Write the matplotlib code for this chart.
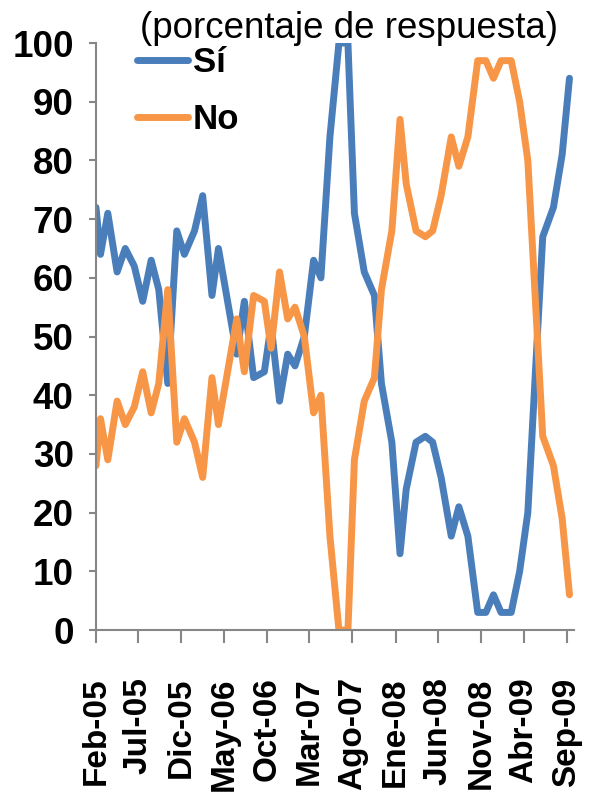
import matplotlib
matplotlib.use("Agg")
import matplotlib.pyplot as plt
import pandas as pd

# survey dates
fechas = ["2005-02-01", "2005-02-17", "2005-03-15", "2005-04-17", "2005-05-16",
          "2005-06-17", "2005-07-17", "2005-08-16", "2005-09-12", "2005-10-14",
          "2005-11-15", "2005-12-12", "2006-01-17", "2006-02-15", "2006-03-20",
          "2006-04-12", "2006-06-16", "2006-07-13", "2006-08-15", "2006-09-22",
          "2006-10-16", "2006-11-15", "2006-12-14", "2007-01-09", "2007-02-11",
          "2007-03-16", "2007-04-11", "2007-05-13", "2007-06-14", "2007-07-16",
          "2007-08-08", "2007-09-12", "2007-10-18", "2007-11-12", "2007-12-19",
          "2008-01-17", "2008-02-08", "2008-03-14", "2008-04-16", "2008-05-12",
          "2008-06-11", "2008-07-17", "2008-08-13", "2008-09-14", "2008-10-19",
          "2008-11-17", "2008-12-14", "2009-01-10", "2009-02-15", "2009-03-17",
          "2009-04-15", "2009-06-07", "2009-07-15", "2009-08-15", "2009-09-10"]

si = [72, 64, 71, 61, 65, 62, 56, 63, 58, 42,
      68, 64, 68, 74, 57, 65, 47, 56, 43, 44,
      52, 39, 47, 45, 50, 63, 60, 84, 100, 100,
      71, 61, 57, 42, 32, 13, 24, 32, 33, 32,
      26, 16, 21, 16, 3, 3, 6, 3, 3, 10,
      20, 67, 72, 81, 94]

no = [28, 36, 29, 39, 35, 38, 44, 37, 42, 58,
      32, 36, 32, 26, 43, 35, 53, 44, 57, 56,
      48, 61, 53, 55, 50, 37, 40, 16, 0, 0,
      29, 39, 43, 58, 68, 87, 76, 68, 67, 68,
      74, 84, 79, 84, 97, 97, 94, 97, 97, 90,
      80, 33, 28, 19, 6]

tick_fechas = pd.date_range("2005-02-01", "2009-09-01", freq="5MS")
tick_labels = ["Feb-05", "Jul-05", "Dic-05", "May-06", "Oct-06", "Mar-07",
               "Ago-07", "Ene-08", "Jun-08", "Nov-08", "Abr-09", "Sep-09"]

plt.rcParams["font.family"] = ["Liberation Sans", "DejaVu Sans"]

x = pd.to_datetime(fechas)

fig = plt.figure(figsize=(5.94, 7.94), dpi=100)
ax = fig.add_axes([0.1616, 0.2065, 0.8047, 0.7393])

ax.plot(x, si, color="#4A7EBB", lw=5, solid_joinstyle="round",
        solid_capstyle="round", label="Sí")
ax.plot(x, no, color="#F79646", lw=5, solid_joinstyle="round",
        solid_capstyle="round", label="No")

ax.set_ylim(0, 100)
ax.set_yticks(range(0, 101, 10))
ax.set_xlim(pd.Timestamp("2005-02-01"), pd.Timestamp("2009-09-26"))
ax.set_xticks(tick_fechas)
ax.set_xticklabels(tick_labels, rotation=90)

for sp in ["top", "right"]:
    ax.spines[sp].set_visible(False)
for sp in ["left", "bottom"]:
    ax.spines[sp].set_color("#868686")
    ax.spines[sp].set_linewidth(1.5)

ax.tick_params(axis="y", colors="#868686", length=5, width=1.5, pad=11,
               labelcolor="black", labelsize=26.5)
ax.tick_params(axis="x", colors="#868686", length=9, width=1.5, pad=25,
               labelcolor="black", labelsize=24)
for lab in ax.get_xticklabels() + ax.get_yticklabels():
    lab.set_fontweight("bold")

leg = ax.legend(loc="upper left", bbox_to_anchor=(0.05, 1.025), frameon=False,
                prop={"weight": "bold", "size": 25}, handlelength=1.45,
                handletextpad=0.15, labelspacing=0.7, borderpad=0)

fig.text(0.588, 0.952, "(porcentaje de respuesta)", fontsize=26.5,
         ha="center", va="baseline")

fig.savefig("out.png", dpi=100)
